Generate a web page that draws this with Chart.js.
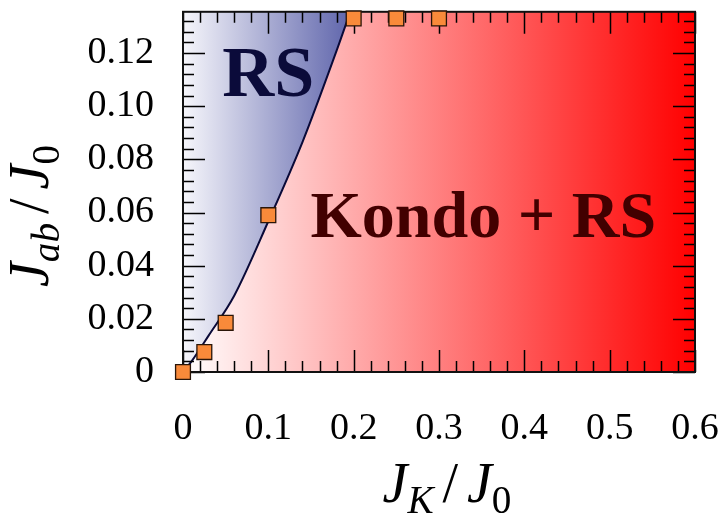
<!DOCTYPE html>
<html>
<head>
<meta charset="utf-8">
<script src="https://cdn.jsdelivr.net/npm/chart.js@4"></script>
<style>
  html, body { margin: 0; padding: 0; background: #fff; }
  #wrap { width: 727px; height: 521px; position: relative; }
</style>
</head>
<body>
<div id="wrap"><canvas id="phaseChart"></canvas></div>
<script>
// ---- data ----
const jkPoints  = [0, 0.025, 0.05, 0.1, 0.2, 0.25, 0.3];
const jabPoints = [0, 0.0075, 0.0185, 0.059, 0.133, 0.133, 0.133];

// phase boundary (solid line)
const boundaryJk  = [0, 0.01, 0.03, 0.06, 0.1, 0.14, 0.18, 0.196];
const boundaryJab = [0, 0.004, 0.0137, 0.0287, 0.0567, 0.0865, 0.1209, 0.1355];

const xTickLabels = ['0', '0.1', '0.2', '0.3', '0.4', '0.5', '0.6'];
const yTickLabels = ['0', '0.02', '0.04', '0.06', '0.08', '0.10', '0.12'];

const X_MAX = 0.6;
const Y_MAX = 0.1355;

const SERIF = '"Liberation Serif", "DejaVu Serif", serif';

// region labels, placed in data coordinates
const regionLabels = [
  { text: 'RS', x: 0.1, y: 0.104, size: 72, color: '#0b0b3a' },
  { text: 'Kondo + RS', x: 0.352, y: 0.0506, size: 66, color: '#420000' }
];

// draw J_K / J_0 style text, centred on (0,0) baseline
function drawMath(ctx, parts, size) {
  const items = parts.map(p => {
    const s = p.sub ? size * 0.7 : size;
    const font = (p.it ? 'italic ' : '') + s + 'px ' + SERIF;
    ctx.font = font;
    return { ...p, font, w: ctx.measureText(p.t).width + (p.gap || 0) * size };
  });
  const total = items.reduce((a, b) => a + b.w, 0);
  let x = -total / 2;
  ctx.textBaseline = 'alphabetic';
  ctx.textAlign = 'left';
  items.forEach(p => {
    ctx.font = p.font;
    ctx.fillText(p.t, x, p.sub ? size * 0.2 : 0);
    x += p.w;
  });
}

const phasePlugin = {
  id: 'phase',
  beforeDatasetsDraw(chart) {
    const { ctx, chartArea: a, scales } = chart;
    const g = ctx.createLinearGradient(scales.x.getPixelForValue(0), 0, scales.x.getPixelForValue(X_MAX), 0);
    g.addColorStop(0, 'rgb(255,255,255)');
    g.addColorStop(1, 'rgb(255,0,0)');
    ctx.save();
    ctx.fillStyle = g;
    ctx.fillRect(a.left, a.top, a.right - a.left, a.bottom - a.top);
    ctx.restore();
  },
  afterDatasetDraw(chart, args) {
    if (args.index !== 0) return;
    const { ctx, chartArea: a, scales } = chart;
    const xs = scales.x, ys = scales.y;
    ctx.save();

    // region labels
    regionLabels.forEach(l => {
      ctx.font = 'bold ' + l.size + 'px ' + SERIF;
      ctx.fillStyle = l.color;
      ctx.textAlign = 'center';
      ctx.textBaseline = 'alphabetic';
      ctx.fillText(l.text, xs.getPixelForValue(l.x), ys.getPixelForValue(l.y));
    });

    // inward ticks on all four sides
    ctx.strokeStyle = '#000';
    ctx.lineWidth = 1.5;
    ctx.beginPath();
    for (let i = 0; i <= 30; i++) {
      const v = i * 0.02;
      const px = Math.round(xs.getPixelForValue(v)) + 0.5;
      const len = i % 5 === 0 ? 22 : 11;
      ctx.moveTo(px, a.bottom); ctx.lineTo(px, a.bottom - len);
      ctx.moveTo(px, a.top); ctx.lineTo(px, a.top + len);
    }
    for (let i = 0; i * 0.004 <= Y_MAX + 1e-9; i++) {
      const v = i * 0.004;
      const py = Math.round(ys.getPixelForValue(v)) + 0.5;
      const len = i % 5 === 0 ? 22 : 11;
      ctx.moveTo(a.left, py); ctx.lineTo(a.left + len, py);
      ctx.moveTo(a.right, py); ctx.lineTo(a.right - len, py);
    }
    ctx.stroke();

    // frame
    ctx.lineWidth = 2;
    ctx.strokeStyle = '#111';
    ctx.strokeRect(a.left, a.top, a.right - a.left, a.bottom - a.top);
    ctx.restore();
  },
  afterDraw(chart) {
    const { ctx, chartArea: a } = chart;
    ctx.save();
    ctx.fillStyle = '#000';
    // x axis title
    ctx.translate((a.left + a.right) / 2 + 8, 502);
    drawMath(ctx, [
      { t: 'J', it: true },
      { t: 'K', it: true, sub: true, gap: 0.16 },
      { t: '/', it: false, gap: 0.16 },
      { t: 'J', it: true },
      { t: '0', sub: true }
    ], 56);
    ctx.restore();

    ctx.save();
    ctx.fillStyle = '#000';
    ctx.translate(48, 216);
    ctx.rotate(-Math.PI / 2);
    drawMath(ctx, [
      { t: 'J', it: true },
      { t: 'ab', it: true, sub: true, gap: 0.16 },
      { t: '/', it: false, gap: 0.16 },
      { t: 'J', it: true },
      { t: '0', sub: true }
    ], 56);
    ctx.restore();
  }
};

const zeroPad = (s) => {
  s.paddingLeft = 0; s.paddingRight = 0; s.paddingTop = 0; s.paddingBottom = 0;
};

const ctx = document.getElementById('phaseChart').getContext('2d');

new Chart(ctx, {
  type: 'scatter',
  data: {
    datasets: [
      {
        // phase boundary, RS region filled above it
        type: 'line',
        data: boundaryJk.map((x, i) => ({ x, y: boundaryJab[i] })),
        borderColor: '#0a0a38',
        borderWidth: 2,
        pointRadius: 0,
        cubicInterpolationMode: 'monotone',
        fill: 'end',
        backgroundColor: (c) => {
          const { chart } = c;
          if (!chart.chartArea) return 'rgba(0,0,0,0)';
          const xs = chart.scales.x;
          const g = chart.ctx.createLinearGradient(xs.getPixelForValue(0), 0, xs.getPixelForValue(0.2), 0);
          g.addColorStop(0, 'rgb(246,246,251)');
          g.addColorStop(1, 'rgb(92,98,170)');
          return g;
        },
        order: 2
      },
      {
        data: jkPoints.map((x, i) => ({ x, y: jabPoints[i] })),
        pointStyle: 'rect',
        pointRadius: 10.5,
        pointBackgroundColor: '#f98a3a',
        pointBorderColor: '#2a1508',
        pointBorderWidth: 1.3,
        showLine: false,
        clip: false,
        order: 1
      }
    ]
  },
  options: {
    responsive: true,
    maintainAspectRatio: false,
    animation: false,
    layout: { padding: { left: 0, right: 32, top: 5, bottom: 0 } },
    plugins: {
      legend: { display: false },
      tooltip: { enabled: false }
    },
    scales: {
      x: {
        type: 'linear',
        min: 0,
        max: X_MAX,
        grid: { display: false },
        border: { display: false },
        afterFit: (s) => { s.height = 149; zeroPad(s); },
        ticks: {
          stepSize: 0.1,
          autoSkip: false,
          maxRotation: 0,
          includeBounds: false,
          padding: 26,
          color: '#000',
          font: { family: SERIF, size: 38 },
          callback: (v, i) => xTickLabels[i]
        }
      },
      y: {
        type: 'linear',
        min: 0,
        max: Y_MAX,
        grid: { display: false },
        border: { display: false },
        afterFit: (s) => { s.width = 183; zeroPad(s); },
        ticks: {
          stepSize: 0.02,
          autoSkip: false,
          includeBounds: false,
          padding: 21,
          color: '#000',
          font: { family: SERIF, size: 38 },
          callback: (v, i) => yTickLabels[i]
        }
      }
    }
  },
  plugins: [phasePlugin]
});
</script>
</body>
</html>
